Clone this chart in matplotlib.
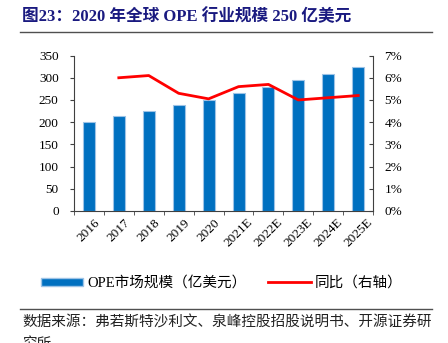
import numpy as np
import matplotlib
matplotlib.use("Agg")
import matplotlib.pyplot as plt
from matplotlib.patches import Patch
from matplotlib.lines import Line2D
from matplotlib.ticker import FuncFormatter

plt.rcParams['font.family'] = ['Liberation Serif', 'Noto Sans CJK SC', 'DejaVu Sans']

years = ['2016', '2017', '2018', '2019', '2020', '2021E', '2022E', '2023E', '2024E', '2025E']
market_size = [201, 213, 226, 238, 251, 265, 280, 295, 309, 325]
growth = [np.nan, 6.0, 6.1, 5.3, 5.05, 5.6, 5.7, 5.0, 5.1, 5.2]

title = '图23：2020 年全球 OPE 行业规模 250 亿美元'
source = '数据来源：弗若斯特沙利文、泉峰控股招股说明书、开源证券研'
source_tail = '究所'

bar_color = '#0070C0'
bar_edge = '#9DC3E6'
line_color = '#FF0000'
spine_color = '#404040'

fig = plt.figure(figsize=(4.48, 3.43), dpi=100)
ax = fig.add_axes([0.165, 0.385, 0.668, 0.453])
x = np.arange(len(years))

ax.bar(x, market_size, width=0.4, color=bar_color, edgecolor=bar_edge, linewidth=0.8)
ax.set_ylim(0, 350)
ax.set_yticks(range(0, 351, 50))
ax.set_xlim(-0.5, len(years) - 0.5)
ax.set_xticks(x)
ax.set_xticklabels(years, rotation=45, fontsize=9.5)
ax.set_xticks(np.arange(-0.5, len(years), 1), minor=True)
ax.tick_params(axis='x', which='major', length=0, pad=4)
ax.tick_params(axis='x', which='minor', length=3, direction='out', color=spine_color)
ax.tick_params(axis='y', length=3, direction='out', labelsize=9.5, color=spine_color, pad=8)

ax2 = ax.twinx()
ax2.plot(x, growth, color=line_color, linewidth=2)
ax2.set_ylim(0, 7)
ax2.set_yticks(range(0, 8))
ax2.yaxis.set_major_formatter(FuncFormatter(lambda v, p: f'{int(v)}%'))
ax2.tick_params(axis='y', length=3, direction='in', labelsize=9.5, color=spine_color, pad=8)

for a in (ax, ax2):
    a.spines['top'].set_visible(False)
    for s in ('left', 'right', 'bottom'):
        a.spines[s].set_color(spine_color)
        a.spines[s].set_linewidth(0.8)
ax.spines['right'].set_visible(False)
ax2.spines['left'].set_visible(False)
ax2.spines['bottom'].set_visible(False)

handles = [Patch(facecolor=bar_color, edgecolor=bar_edge),
           Line2D([0], [0], color=line_color, linewidth=2)]
fig.legend(handles, ['OPE市场规模（亿美元）', '同比（右轴）'],
           loc='center', bbox_to_anchor=(0.495, 1 - 283 / 343), ncol=2, frameon=False,
           fontsize=10.5, handlelength=2.9, handleheight=0.5, columnspacing=1.5, handletextpad=0.3)

# title and source text
fig.text(22 / 448, 1 - 17 / 343, title, fontsize=12, fontweight='bold',
         color='#1A1A80', va='center', ha='left')
fig.add_artist(Line2D([20 / 448, 432 / 448], [1 - 32 / 343] * 2, color='#505050', linewidth=1))
fig.add_artist(Line2D([20 / 448, 432 / 448], [1 - 309 / 343] * 2, color='#505050', linewidth=1))
fig.text(22 / 448, 1 - 323 / 343, source, fontsize=10.5, color='#222222', va='center', ha='left',
         family=['Noto Sans CJK SC'])
fig.text(22 / 448, 1 - 344 / 343, source_tail, fontsize=10.5, color='#222222', va='center', ha='left',
         family=['Noto Sans CJK SC'])

fig.savefig('out.png', dpi=100)
